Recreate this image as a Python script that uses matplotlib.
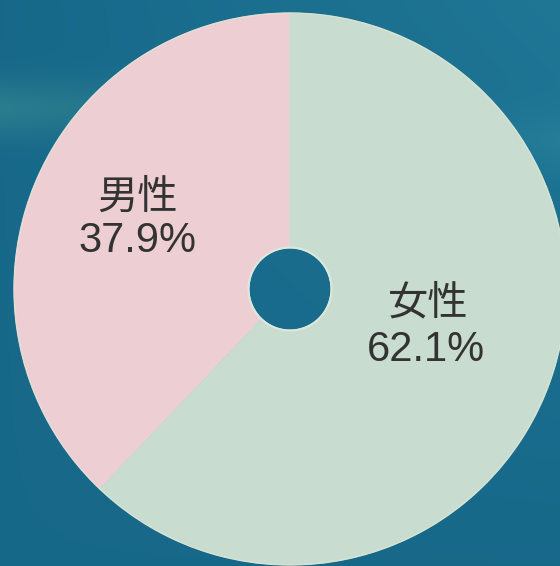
import numpy as np
import matplotlib
matplotlib.use("Agg")
import matplotlib.pyplot as plt

labels = ["男性", "女性"]
values = [37.9, 62.1]
colors = ["#edcfd3", "#c8dccf"]

W, H = 560, 566
fig = plt.figure(figsize=(W / 100, H / 100), dpi=100)
ax = fig.add_axes([0, 0, 1, 1])
ax.set_xlim(0, W)
ax.set_ylim(0, H)
ax.set_aspect("equal")
ax.axis("off")

# background gradient
yy, xx = np.mgrid[0:H, 0:W]
base = np.array([0.09, 0.41, 0.54])
img = np.ones((H, W, 3)) * base
f = np.clip((xx / W) * (1 - yy / H), 0, 1)[..., None]
img = img * (1 - 0.4 * f) + np.array([0.17, 0.54, 0.65]) * 0.4 * f
band = np.exp(-((yy - 108) / 28.0) ** 2) * np.clip(1 - xx / 300, 0, 1)
img = img * (1 - 0.5 * band[..., None]) + np.array([0.24, 0.56, 0.57]) * 0.5 * band[..., None]
bandr = np.exp(-((yy - 140) / 30.0) ** 2) * np.clip((xx - 400) / 160, 0, 1)
img = img * (1 - 0.3 * bandr[..., None]) + np.array([0.20, 0.58, 0.66]) * 0.3 * bandr[..., None]
ax.imshow(np.clip(np.flipud(img), 0, 1), extent=[0, W, 0, H], origin="lower", zorder=0)

cx, cy, R, r = 290, H - 289, 276, 41
wedges, _ = ax.pie(values, colors=colors, startangle=90, counterclock=True,
                   center=(cx, cy), radius=R,
                   wedgeprops=dict(width=R - r, linewidth=0.6))
for w, c in zip(wedges, colors):
    w.set_edgecolor(c)
    w.set_zorder(2)
ax.add_patch(plt.Circle((cx, cy), R, facecolor="none", edgecolor="#e4ead8",
                        linewidth=1.0, alpha=0.7, zorder=3))
ax.add_patch(plt.Circle((cx, cy), r + 0.5, facecolor="none", edgecolor="#dce8dc",
                        linewidth=1.5, zorder=3))
ax.set_xlim(0, W)
ax.set_ylim(0, H)

cjk = ["Noto Sans CJK JP", "DejaVu Sans"]
num = ["Liberation Sans", "DejaVu Sans"]
txt = "#333333"
ax.text(138, H - 197, labels[0], ha="center", va="center", fontsize=29, color=txt, family=cjk, zorder=4)
ax.text(137, H - 241, f"{values[0]}%", ha="center", va="center", fontsize=30, color=txt, family=num, zorder=4)
ax.text(428, H - 303, labels[1], ha="center", va="center", fontsize=29, color=txt, family=cjk, zorder=4)
ax.text(426, H - 350, f"{values[1]}%", ha="center", va="center", fontsize=30, color=txt, family=num, zorder=4)

fig.savefig("out.png", dpi=100)
